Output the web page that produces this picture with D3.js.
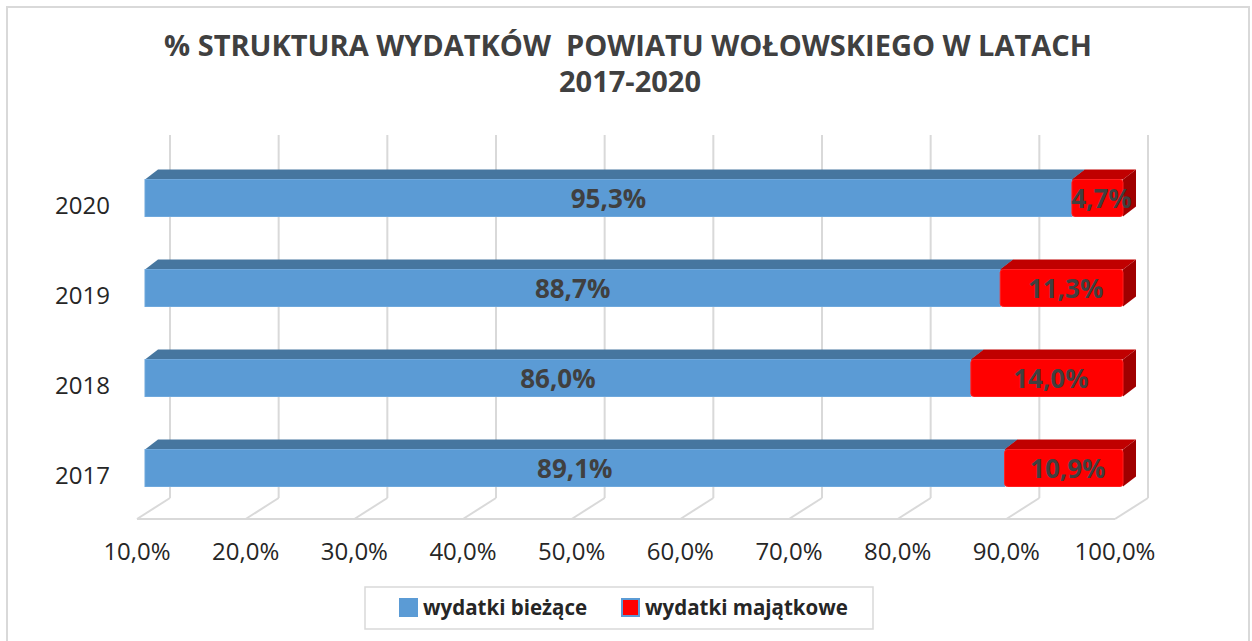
<!DOCTYPE html>
<html>
<head>
<meta charset="utf-8">
<script src="https://cdn.jsdelivr.net/npm/d3@7"></script>
<style>
  html, body { margin: 0; padding: 0; background: #fff; }
  svg { display: block; font-family: "Open Sans", sans-serif; }
</style>
</head>
<body>
<svg id="chart" width="1252" height="641"></svg>
<script>
// ---- data ----
const titleLines = ["% STRUKTURA WYDATKÓW  POWIATU WOŁOWSKIEGO W LATACH", "2017-2020"];
const categories = ["2020", "2019", "2018", "2017"];
const seriesNames = ["wydatki bieżące", "wydatki majątkowe"];
const biezace = [0.953, 0.887, 0.860, 0.891];
const majatkowe = [0.047, 0.113, 0.140, 0.109];
const tickValues = [0.1, 0.2, 0.3, 0.4, 0.5, 0.6, 0.7, 0.8, 0.9, 1.0];
const axisDomain = [0.1, 1.0];

// ---- styles ----
const colors = {
  front: ["#5b9bd5", "#ff0000"],
  top: ["#46769f", "#c00000"],
  side: ["#3d6a92", "#a00000"]
};
const gridColor = "#d9d9d9";
const fmt = v => d3.format(".1f")(v * 100).replace(".", ",") + "%";

const svg = d3.select("#chart");

// outer border
svg.append("rect").attr("x", 7).attr("y", 7).attr("width", 1242).attr("height", 640)
  .attr("fill", "none").attr("stroke", gridColor).attr("stroke-width", 2);

// title
svg.append("text").attr("x", 628).attr("y", 56).attr("text-anchor", "middle")
  .attr("font-weight", "bold").attr("font-size", 29).attr("fill", "#404040")
  .style("white-space", "pre").text(titleLines[0]);
svg.append("text").attr("x", 630).attr("y", 92).attr("text-anchor", "middle")
  .attr("font-weight", "bold").attr("font-size", 29).attr("fill", "#404040")
  .text(titleLines[1]);

// scales
const xBar = d3.scaleLinear().domain(axisDomain).range([145, 1123]);
const xFloorFront = d3.scaleLinear().domain(axisDomain).range([137, 1115]);
const xBack = d3.scaleLinear().domain(axisDomain).range([170, 1148]);
const y = d3.scaleBand().domain(categories).range([153, 513]).paddingInner(0.589).paddingOuter(0.2945);

const floorFrontY = 519, floorBackY = 498, wallTop = 135;
const ddx = 13, ddy = -10; // bar depth

// back wall gridlines + floor
const g = svg.append("g").attr("stroke", gridColor).attr("stroke-width", 2).attr("fill", "none");
tickValues.forEach(t => {
  g.append("line").attr("x1", xBack(t)).attr("x2", xBack(t)).attr("y1", wallTop).attr("y2", floorBackY);
  g.append("line").attr("x1", xBack(t)).attr("x2", xFloorFront(t)).attr("y1", floorBackY).attr("y2", floorFrontY);
});
g.append("line").attr("x1", xFloorFront(axisDomain[0])).attr("x2", xFloorFront(axisDomain[1]))
  .attr("y1", floorFrontY).attr("y2", floorFrontY);

// tick labels
svg.append("g").selectAll("text").data(tickValues).join("text")
  .attr("x", d => xFloorFront(d)).attr("y", 560).attr("text-anchor", "middle")
  .attr("font-size", 24).attr("fill", "#262626").text(fmt);

// category labels
svg.append("g").selectAll("text").data(categories).join("text")
  .attr("x", 110).attr("y", d => y(d) + y.bandwidth() / 2 + 16).attr("text-anchor", "end")
  .attr("font-size", 24).attr("fill", "#262626").text(d => d);

// bars
const stacked = categories.map((c, i) => {
  const a0 = 0, a1 = biezace[i], b1 = biezace[i] + majatkowe[i];
  return { cat: c, segs: [
    { s: 0, v0: a0, v1: a1, val: biezace[i] },
    { s: 1, v0: a1, v1: b1, val: majatkowe[i] }
  ]};
});
const clampX = v => xBar(Math.max(axisDomain[0], Math.min(axisDomain[1], v)));

const bars = svg.append("g");
stacked.forEach(row => {
  const y0 = y(row.cat), h = y.bandwidth();
  const bg = bars.append("g");
  row.segs.forEach(sg => {
    const x0 = clampX(sg.v0), x1 = clampX(sg.v1);
    // top face
    bg.append("path").attr("fill", colors.top[sg.s])
      .attr("d", `M${x0},${y0} L${x0 + ddx},${y0 + ddy} L${x1 + ddx},${y0 + ddy} L${x1},${y0} Z`);
    // side face
    bg.append("path").attr("fill", colors.side[sg.s])
      .attr("d", `M${x1},${y0} L${x1 + ddx},${y0 + ddy} L${x1 + ddx},${y0 + h + ddy} L${x1},${y0 + h} Z`);
    // front face
    bg.append("rect").attr("x", x0).attr("y", y0).attr("width", x1 - x0).attr("height", h)
      .attr("rx", sg.s === 1 ? 3 : 0)
      .attr("fill", colors.front[sg.s])
      .attr("stroke", sg.s === 0 ? "#6fa8dc" : "#ff2020").attr("stroke-width", 1);
  });
  row.segs.forEach(sg => {
    const x0 = clampX(sg.v0), x1 = clampX(sg.v1);
    bg.append("text").attr("x", (x0 + x1) / 2 + (sg.s === 1 ? 4 : 0)).attr("y", y0 + h / 2 + 10)
      .attr("text-anchor", "middle").attr("font-weight", "bold").attr("font-size", 26)
      .attr("fill", "#404040").text(fmt(sg.val));
  });
});

// legend
const lg = svg.append("g");
lg.append("rect").attr("x", 365).attr("y", 587).attr("width", 508).attr("height", 42)
  .attr("fill", "#fff").attr("stroke", gridColor).attr("stroke-width", 1.5);
const legendItems = [{ name: seriesNames[0], x: 400 }, { name: seriesNames[1], x: 622 }];
legendItems.forEach((it, i) => {
  lg.append("rect").attr("x", it.x).attr("y", 599).attr("width", 17).attr("height", 17)
    .attr("fill", colors.front[i]).attr("stroke", colors.front[0]).attr("stroke-width", 2);
  lg.append("text").attr("x", it.x + 23).attr("y", 615).attr("font-weight", "bold")
    .attr("font-size", 20.5).attr("fill", "#262626").text(it.name);
});
</script>
</body>
</html>
